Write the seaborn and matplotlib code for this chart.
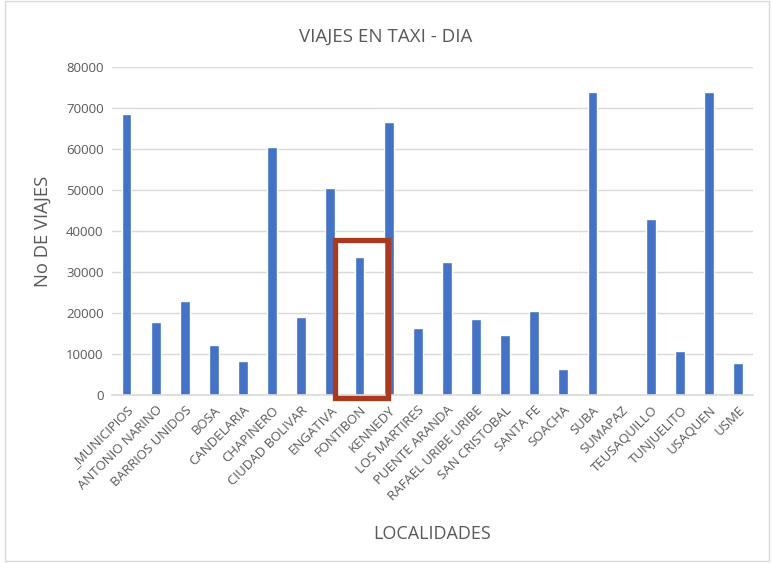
import matplotlib
matplotlib.use("Agg")
import matplotlib.pyplot as plt
import seaborn as sns
import pandas as pd
from matplotlib.patches import Rectangle

# --- data ---
localidades = ['_MUNICIPIOS', 'ANTONIO NARINO', 'BARRIOS UNIDOS', 'BOSA', 'CANDELARIA',
               'CHAPINERO', 'CIUDAD BOLIVAR', 'ENGATIVA', 'FONTIBON', 'KENNEDY',
               'LOS MARTIRES', 'PUENTE ARANDA', 'RAFAEL URIBE URIBE', 'SAN CRISTOBAL',
               'SANTA FE', 'SOACHA', 'SUBA', 'SUMAPAZ', 'TEUSAQUILLO', 'TUNJUELITO',
               'USAQUEN', 'USME']
viajes = [68500, 17900, 22900, 12200, 8300, 60500, 19000, 50400, 33700, 66500,
          16300, 32500, 18700, 14600, 20500, 6500, 74000, 0, 43000, 10900,
          73800, 7900]
y_ticks = [0, 10000, 20000, 30000, 40000, 50000, 60000, 70000, 80000]
highlight = 'FONTIBON'

df = pd.DataFrame({'localidad': localidades, 'viajes': viajes})

sns.set_theme(style='white')
plt.rcParams['font.family'] = ['Open Sans', 'DejaVu Sans']
text_color = '#595959'
grid_color = '#D9D9D9'

fig = plt.figure(figsize=(7.72, 5.63), dpi=100)
ax = fig.add_axes([0.145, 0.298, 0.83, 0.583])

sns.barplot(data=df, x='localidad', y='viajes', color='#4472C4', width=0.34,
            saturation=1, ax=ax)

ax.set_ylim(0, 80000)
ax.set_yticks(y_ticks)
ax.set_yticklabels([str(t) for t in y_ticks], fontsize=9.5, color=text_color)
ax.set_xlim(-0.5, len(localidades) - 0.5)
ax.yaxis.grid(True, color=grid_color, linewidth=1)
ax.set_axisbelow(True)
for side in ['top', 'right', 'left']:
    ax.spines[side].set_visible(False)
ax.spines['bottom'].set_color(grid_color)
ax.spines['bottom'].set_linewidth(1.2)
ax.tick_params(axis='both', length=0, pad=6)

plt.setp(ax.get_xticklabels(), rotation=45, ha='right', rotation_mode='anchor',
         fontsize=9.5, color=text_color)

ax.set_xlabel('LOCALIDADES', fontsize=13, color=text_color, labelpad=16)
ax.set_ylabel('No DE VIAJES', fontsize=13.3, color=text_color, labelpad=10)
fig.text(0.5, 0.934, 'VIAJES EN TAXI - DIA', fontsize=13.5, color=text_color,
         ha='center', va='center')

# red box highlighting FONTIBON
i = localidades.index(highlight)
ax.add_patch(Rectangle((i - 0.85, -700), 1.82, 38500, fill=False,
                       edgecolor='#A93A1F', linewidth=3.8, clip_on=False, zorder=5))

# light border around the whole chart
fig.add_artist(Rectangle((0.006, 0.004), 0.99, 0.995, transform=fig.transFigure,
                         fill=False, edgecolor='#D9D9D9', linewidth=1))

fig.savefig('out.png', dpi=100)
